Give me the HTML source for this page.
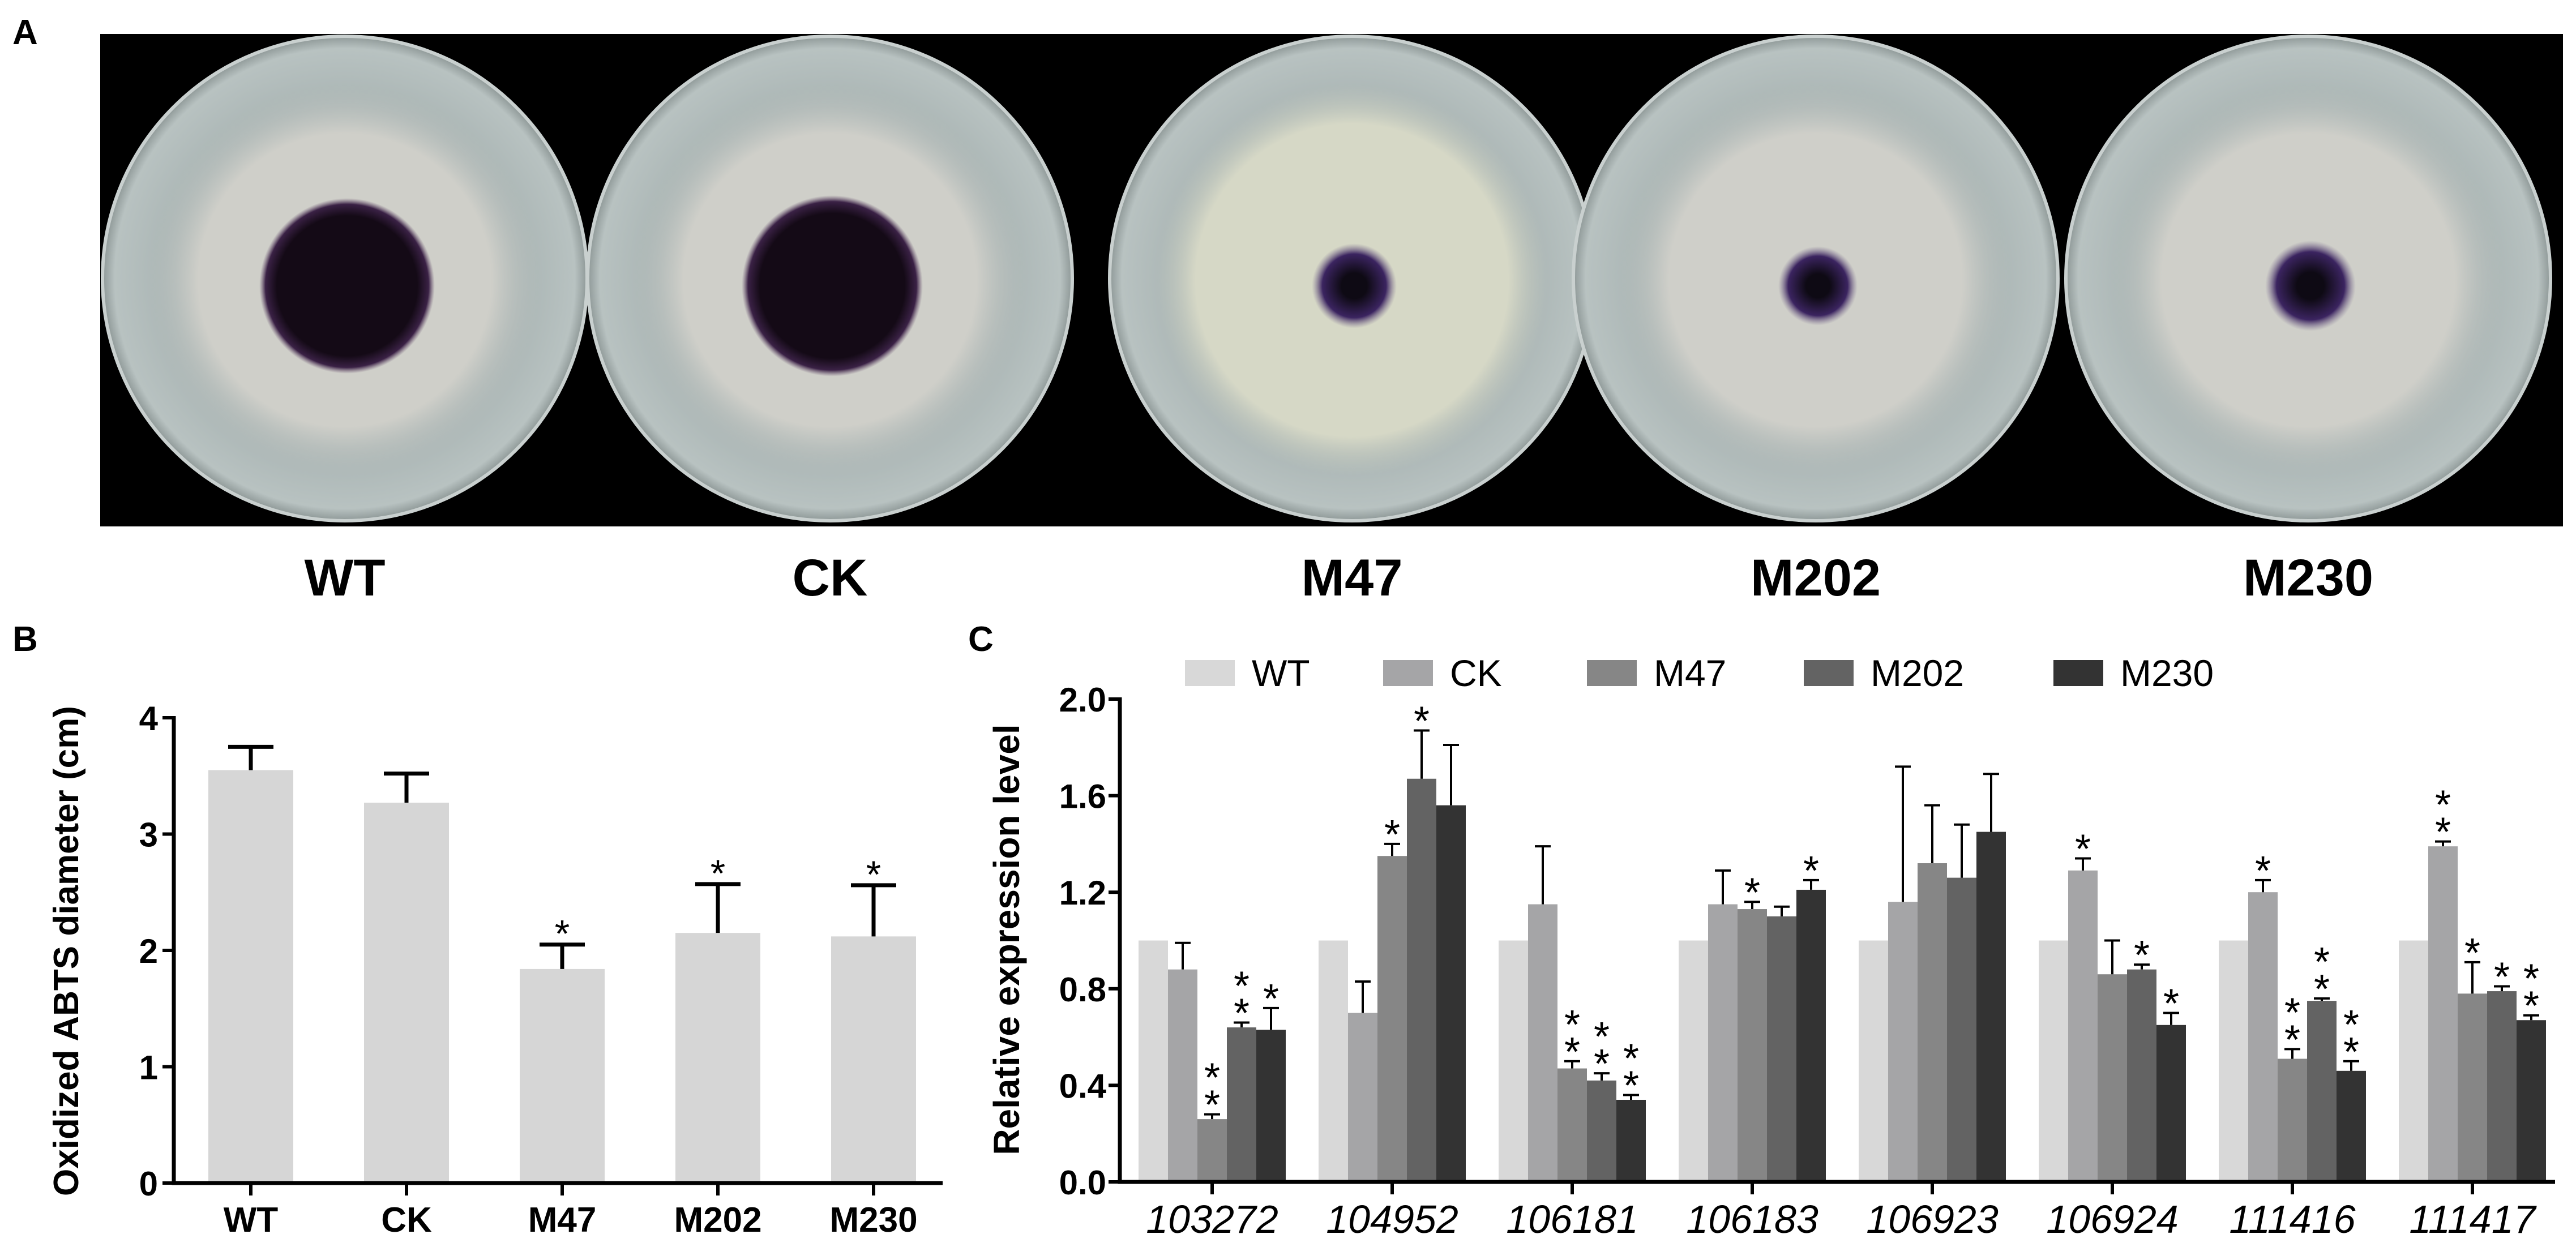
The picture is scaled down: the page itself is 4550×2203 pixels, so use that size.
<!DOCTYPE html>
<html><head><meta charset="utf-8"><style>
html,body{margin:0;padding:0;background:#fff}
svg{display:block}
text{font-family:"Liberation Sans",Arial,sans-serif}
</style></head><body>
<svg id="fig" width="4550" height="2203" viewBox="0 0 4550 2203" xmlns="http://www.w3.org/2000/svg">
<defs>
<radialGradient id="agar" cx="0.5" cy="0.5" r="0.5">
<stop offset="0.7" stop-color="#a9b4b3"/><stop offset="0.95" stop-color="#b8c2c1"/><stop offset="1" stop-color="#8e9897"/>
</radialGradient>
<radialGradient id="myc" cx="0.5" cy="0.5" r="0.5">
<stop offset="0.75" stop-color="#cfcfc9"/><stop offset="1" stop-color="#b9c0be" stop-opacity="0"/>
</radialGradient>
<radialGradient id="mycY" cx="0.5" cy="0.5" r="0.5">
<stop offset="0.8" stop-color="#d6d8c6"/><stop offset="1" stop-color="#c5cbc0" stop-opacity="0"/>
</radialGradient>
<radialGradient id="dark" cx="0.5" cy="0.5" r="0.5">
<stop offset="0.8" stop-color="#140a16"/><stop offset="0.93" stop-color="#3a2145"/><stop offset="1" stop-color="#6a5070" stop-opacity="0"/>
</radialGradient>
<radialGradient id="darkS" cx="0.5" cy="0.5" r="0.5">
<stop offset="0.3" stop-color="#0e0a14"/><stop offset="0.75" stop-color="#3b2460"/><stop offset="1" stop-color="#7a6a8e" stop-opacity="0"/>
</radialGradient>
</defs>
<text x="22" y="78" font-size="62" font-weight="bold">A</text>
<rect x="177" y="60" width="4350" height="870" fill="#000"/>
<g id="plates"></g>
<g id="plateLabels"></g>
<text x="22" y="1150" font-size="62" font-weight="bold">B</text>
<text x="1710" y="1150" font-size="62" font-weight="bold">C</text>
<g id="chartB"></g>
<g id="chartC"></g>
</svg>
<script>
var NS="http://www.w3.org/2000/svg";
function mk(tag,attrs,parent){var e=document.createElementNS(NS,tag);for(var k in attrs)e.setAttribute(k,attrs[k]);parent.appendChild(e);return e;}

// Panel A
var plateNames=["WT","CK","M47","M202","M230"];
var plateCx=[609,1466,2388,3207,4077];
var stainR=[155,160,75,70,80];
var P=document.getElementById("plates");
var PL=document.getElementById("plateLabels");
for(var i=0;i<5;i++){
  var g=mk("g",{},P);
  
  
  mk("circle",{cx:plateCx[i],cy:492,r:428,fill:"url(#agar)",stroke:"#c9d0cf","stroke-width":6},g);
  mk("circle",{cx:plateCx[i],cy:495,r:345,fill:i==2?"url(#mycY)":"url(#myc)"},g);
  mk("circle",{cx:plateCx[i]+4,cy:505,r:stainR[i],fill:i<2?"url(#dark)":"url(#darkS)"},g);
  var t=mk("text",{x:plateCx[i],y:1052,"font-size":92,"font-weight":"bold","text-anchor":"middle"},PL);
  t.textContent=plateNames[i];
  
  
}

// Panel B data
var bCategories=["WT","CK","M47","M202","M230"];
var bValues=[3.55,3.27,1.84,2.15,2.12];
var bErrTop=[3.75,3.52,2.05,2.57,2.56];
var bSig=["","","*","*","*"];
var bTicks=[0,1,2,3,4];

// Panel C data
var cGenes=["103272","104952","106181","106183","106923","106924","111416","111417"];
var cSeries=["WT","CK","M47","M202","M230"];
var cWT=[1.0,1.0,1.0,1.0,1.0,1.0,1.0,1.0];
var cCK=[0.88,0.70,1.15,1.15,1.16,1.29,1.20,1.39];
var cM47=[0.26,1.35,0.47,1.13,1.32,0.86,0.51,0.78];
var cM202=[0.64,1.67,0.42,1.10,1.26,0.88,0.75,0.79];
var cM230=[0.63,1.56,0.34,1.21,1.45,0.65,0.46,0.67];
var cErrWT=[1.0,1.0,1.0,1.0,1.0,1.0,1.0,1.0];
var cErrCK=[0.99,0.83,1.39,1.29,1.72,1.34,1.25,1.41];
var cErrM47=[0.28,1.40,0.50,1.16,1.56,1.00,0.55,0.91];
var cErrM202=[0.66,1.87,0.45,1.14,1.48,0.90,0.76,0.81];
var cErrM230=[0.72,1.81,0.36,1.25,1.69,0.70,0.50,0.69];
var cSigWT=["","","","","","","",""];
var cSigCK=["","","","","","*","*","**"];
var cSigM47=["**","*","**","*","","","**","*"];
var cSigM202=["**","*","**","","","*","**","*"];
var cSigM230=["*","","**","*","","*","**","**"];
var cTicks=[0.0,0.4,0.8,1.2,1.6,2.0];

// Chart B
(function(){
  var G=document.getElementById("chartB");
  var x0=307,x1=1665,y0=2090,yTop=1268,vmax=4;
  function y(v){return y0-(v/vmax)*(y0-yTop);}
  function xc(i){return 443+i*275;}
  var bw=150;
  for(var i=0;i<bValues.length;i++){
    var r=mk("rect",{x:xc(i)-bw/2,y:y(bValues[i]),width:bw,height:y0-y(bValues[i]),fill:"#d6d6d6"},G);
    
    
    var e=mk("path",{d:"M"+xc(i)+" "+y(bValues[i])+"V"+y(bErrTop[i])+"M"+(xc(i)-40)+" "+y(bErrTop[i])+"H"+(xc(i)+40),stroke:"#000","stroke-width":7,fill:"none"},G);
    
    
    if(bSig[i]){var s=mk("text",{x:xc(i),y:y(bErrTop[i])+4,"font-size":68,"text-anchor":"middle"},G);s.textContent=bSig[i];
      
      }
    var t=mk("text",{x:xc(i),y:2176,"font-size":62,"font-weight":"bold","text-anchor":"middle"},G);t.textContent=bCategories[i];
    
    
    mk("line",{x1:xc(i),x2:xc(i),y1:y0,y2:y0+22,stroke:"#000","stroke-width":6},G);
  }
  for(var j=0;j<bTicks.length;j++){
    mk("line",{x1:x0-20,x2:x0,y1:y(bTicks[j]),y2:y(bTicks[j]),stroke:"#000","stroke-width":6},G);
    var t=mk("text",{x:x0-28,y:y(bTicks[j])+22,"font-size":60,"font-weight":"bold","text-anchor":"end"},G);t.textContent=bTicks[j];
    
    
  }
  var a=mk("path",{d:"M"+x0+" "+(yTop-3)+"V"+y0+"H"+x1,stroke:"#000","stroke-width":7,fill:"none"},G);
  
  
  var yt=mk("text",{x:0,y:0,"font-size":62,"font-weight":"bold","text-anchor":"middle",transform:"translate(138,1680) rotate(-90)"},G);
  yt.textContent="Oxidized ABTS diameter (cm)";
  
  
})();

// Chart C
(function(){
  var G=document.getElementById("chartC");
  var x0=1978,x1=4513,y0=2088,yTop=1235,vmax=2.0;
  function y(v){return y0-(v/vmax)*(y0-yTop);}
  var bw=52,pitch=318,start=2011;
  var colors=["#d8d8d8","#a5a5a7","#868686","#636363","#333333"];
  var vals=[cWT,cCK,cM47,cM202,cM230];
  var errs=[cErrWT,cErrCK,cErrM47,cErrM202,cErrM230];
  var sigs=[cSigWT,cSigCK,cSigM47,cSigM202,cSigM230];
  for(var g=0;g<cGenes.length;g++){
    for(var s=0;s<5;s++){
      var bx=start+g*pitch+s*bw,v=vals[s][g];
      var r=mk("rect",{x:bx,y:y(v),width:bw,height:y0-y(v),fill:colors[s]},G);
      
      
      var cx=bx+bw/2;
      if(errs[s][g]>v){
        var e=mk("path",{d:"M"+cx+" "+y(v)+"V"+y(errs[s][g])+"M"+(cx-14)+" "+y(errs[s][g])+"H"+(cx+14),stroke:"#000","stroke-width":4,fill:"none"},G);
        
        
      }
      var sg=sigs[s][g];
      for(var k=0;k<sg.length;k++){
        var st=mk("text",{x:cx,y:y(errs[s][g])+8-k*48,"font-size":72,"text-anchor":"middle"},G);
        st.textContent="*";
        
        
      }
    }
    var tc=start+g*pitch+2.5*bw;
    mk("line",{x1:tc,x2:tc,y1:y0,y2:y0+22,stroke:"#000","stroke-width":6},G);
    var t=mk("text",{x:tc,y:2178,"font-size":70,"font-style":"italic","text-anchor":"middle"},G);t.textContent=cGenes[g];
    
    
  }
  for(var j=0;j<cTicks.length;j++){
    mk("line",{x1:x0-20,x2:x0,y1:y(cTicks[j]),y2:y(cTicks[j]),stroke:"#000","stroke-width":6},G);
    var t=mk("text",{x:x0-24,y:y(cTicks[j])+22,"font-size":60,"font-weight":"bold","text-anchor":"end"},G);t.textContent=cTicks[j].toFixed(1);
    
    
  }
  var a=mk("path",{d:"M"+x0+" "+(yTop-3)+"V"+y0+"H"+x1,stroke:"#000","stroke-width":7,fill:"none"},G);
  
  
  var yt=mk("text",{x:0,y:0,"font-size":64,"font-weight":"bold","text-anchor":"middle",transform:"translate(1800,1660) rotate(-90)"},G);
  yt.textContent="Relative expression level";
  
  
  var lx=[2093,2443,2803,3186,3627];
  for(var s=0;s<5;s++){
    var lg=mk("g",{},G);
    
    
    mk("rect",{x:lx[s],y:1166,width:88,height:46,fill:colors[s]},lg);
    var lt=mk("text",{x:lx[s]+118,y:1212,"font-size":66},lg);lt.textContent=cSeries[s];
  }
})();
</script>
</body></html>
